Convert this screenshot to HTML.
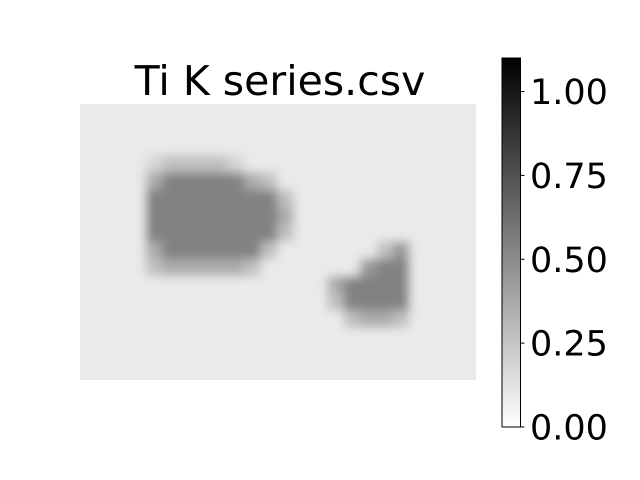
<!DOCTYPE html>
<html><head><meta charset="utf-8"><style>
html,body{margin:0;padding:0;background:#fff;}
svg{display:block;font-family:"DejaVu Sans","Liberation Sans",sans-serif;}
</style></head><body>
<svg id="chart" width="640" height="480" viewBox="0 0 640 480">
<defs>
<linearGradient id="cbg" x1="0" y1="1" x2="0" y2="0">
<stop offset="0" stop-color="#fff"/><stop offset="1" stop-color="#000"/>
</linearGradient>
<clipPath id="imgclip"><rect x="80" y="104" width="396" height="276"/></clipPath>
<filter id="blur" x="-5%" y="-5%" width="110%" height="110%"><feGaussianBlur stdDeviation="5"/></filter>
</defs>
<text x="280" y="95" font-size="41" text-anchor="middle">Ti K series.csv</text>
<g clip-path="url(#imgclip)">
<rect x="80" y="104" width="396" height="276" fill="#ececec"/>
<g id="cells" filter="url(#blur)"></g>
</g>
<rect x="502" y="58" width="18.5" height="369" fill="url(#cbg)" stroke="#000" stroke-width="1"/>
<g id="cbticks"></g>
</svg>
<script>
const rowsData = [
"111111111111111111111111",
"111111111111111111111111",
"111111111111111111111111",
"111123333211111111111111",
"111146666643111111111111",
"111166666666311111111111",
"111166666666411111111111",
"111166666666311111111111",
"111146666663111111351111",
"111134444431111115661111",
"111111111111111466661111",
"111111111111111366661111",
"111111111111111134431111",
"111111111111111111111111",
"111111111111111111111111",
"111111111111111111111111"
];
const tickValues = [0, 0.25, 0.5, 0.75, 1.0];
const tickLabels = ["0.00", "0.25", "0.50", "0.75", "1.00"];
const vmin = 0, vmax = 1.10;

const ns = "http://www.w3.org/2000/svg";
const X0 = 80, Y0 = 104, W = 396, H = 276;
const nRows = rowsData.length, nCols = rowsData[0].length;
const cw = W / nCols, ch = H / nRows;
function colorOf(v){const t=Math.max(0,Math.min(1,(v-vmin)/(vmax-vmin)));const c=Math.round(255*(1-t));return `rgb(${c},${c},${c})`;}
function cbY(v){return 427 - (v - vmin) / (vmax - vmin) * 369;}
const cells = document.getElementById("cells");
rowsData.forEach((row, r) => {
  for (let c = 0; c < nCols; c++) {
    const v = parseInt(row[c]) * 0.09;
    const rect = document.createElementNS(ns, "rect");
    rect.setAttribute("x", X0 + c * cw - 0.5);
    rect.setAttribute("y", Y0 + r * ch - 0.5);
    rect.setAttribute("width", cw + 1);
    rect.setAttribute("height", ch + 1);
    rect.setAttribute("fill", colorOf(v));
    
    
    cells.appendChild(rect);
  }
});
const tg = document.getElementById("cbticks");
tickValues.forEach((v, i) => {
  const y = cbY(v);
  const ln = document.createElementNS(ns, "line");
  ln.setAttribute("x1", 520.5); ln.setAttribute("x2", 524.5);
  ln.setAttribute("y1", y); ln.setAttribute("y2", y);
  ln.setAttribute("stroke", "#000");
  
  
  tg.appendChild(ln);
  const t = document.createElementNS(ns, "text");
  t.setAttribute("x", 530); t.setAttribute("y", y + 12.5);
  t.setAttribute("font-size", "35");
  t.textContent = tickLabels[i];
  
  
  tg.appendChild(t);
});
</script>
</body></html>
